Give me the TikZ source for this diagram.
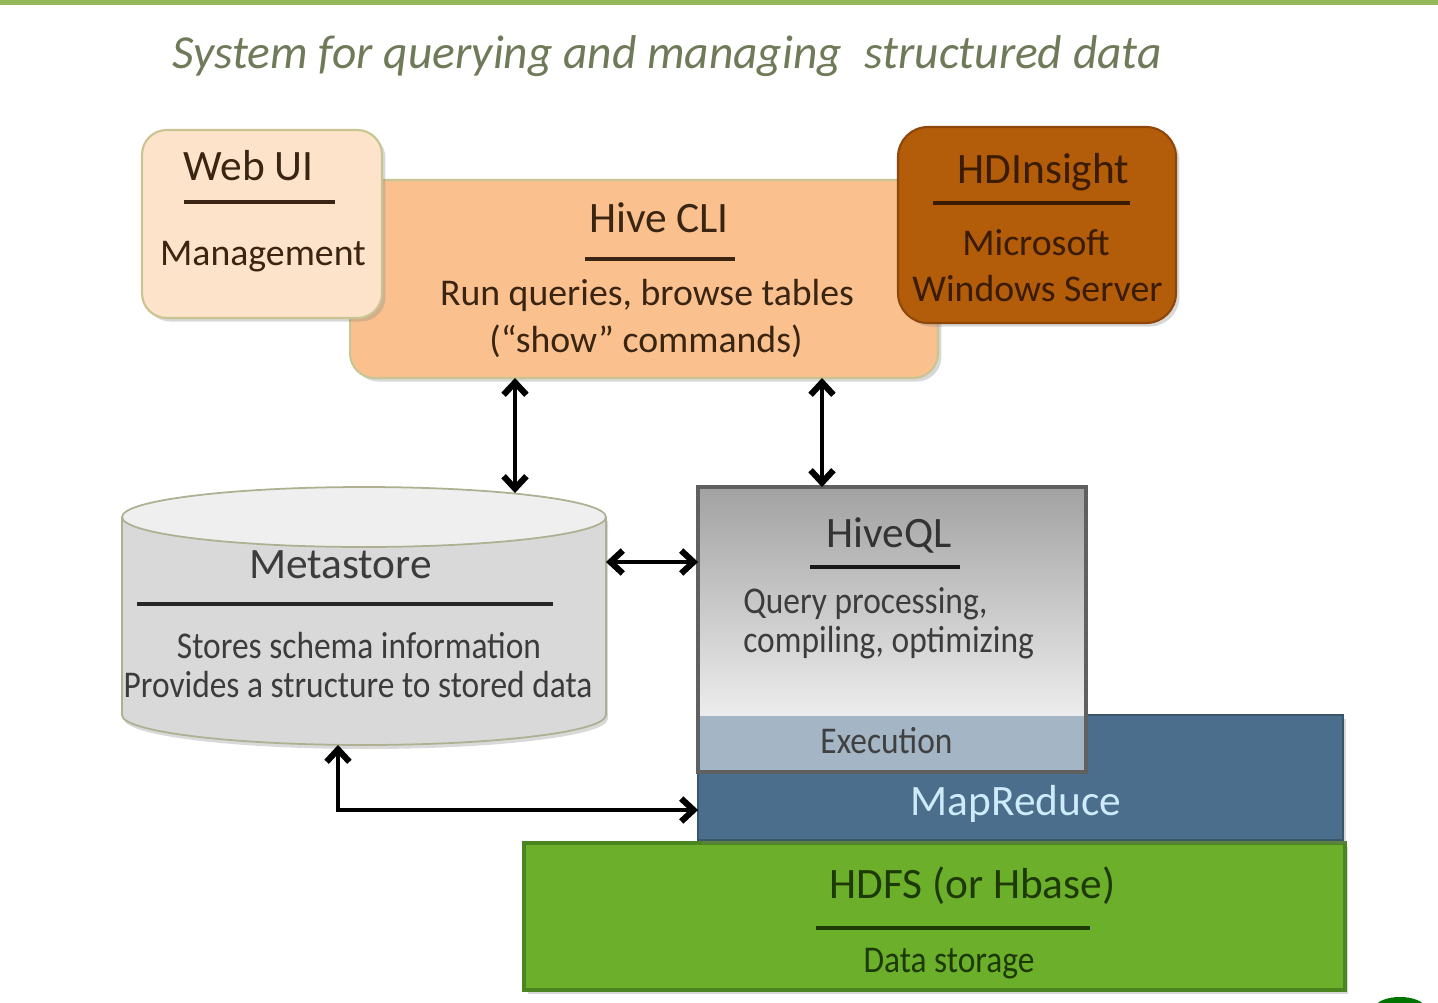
\documentclass[tikz,border=0pt]{standalone}
\usepackage{fontspec}
\setmainfont{Carlito}
\newfontfamily\condfont[FakeStretch=0.885]{Carlito}
\usetikzlibrary{arrows.meta,shadows}

\definecolor{barGreen}{HTML}{94B75A}
\definecolor{titleGray}{HTML}{6E7A58}
\definecolor{webFill}{HTML}{FDE3C9}
\definecolor{cliFill}{HTML}{FAC18F}
\definecolor{boxEdge}{HTML}{C8C592}
\definecolor{hdiFill}{HTML}{B35C0A}
\definecolor{hdiEdge}{HTML}{8E4708}
\definecolor{brownText}{HTML}{3A2412}
\definecolor{hdiText}{HTML}{3A1C02}
\definecolor{metaBody}{HTML}{D9D9D9}
\definecolor{metaTopFill}{HTML}{EFEFEF}
\definecolor{metaEdge}{HTML}{AEB091}
\definecolor{grayText}{HTML}{3C3C3C}
\definecolor{hqlTop}{HTML}{A2A2A2}
\definecolor{hqlEdge}{HTML}{606060}
\definecolor{mrFill}{HTML}{4A6E8B}
\definecolor{mrEdge}{HTML}{3A566C}
\definecolor{mrText}{HTML}{CDEBFA}
\definecolor{hdfsFill}{HTML}{6CAF2B}
\definecolor{hdfsEdge}{HTML}{4B8520}
\definecolor{hdfsText}{HTML}{1D3A06}

\newcommand\hdsize{\fontsize{24.7}{29}\selectfont}
\newcommand\bdsize{\fontsize{21.5}{25}\selectfont}
\newcommand\cdsize{\condfont\fontsize{21.5}{25}\selectfont}

\begin{document}
\begin{tikzpicture}[x=0.02cm, y=-0.02cm,
  box/.style={inner sep=0pt, outer sep=0pt},
  panel/.style={box, rounded corners=14pt, line width=1.2pt,
    drop shadow={shadow xshift=2pt, shadow yshift=-2pt, opacity=0.3}},
  flat/.style={box, drop shadow={shadow xshift=2pt, shadow yshift=-2pt, opacity=0.3}},
  txt/.style={anchor=base, inner sep=0pt},
  rule/.style={line width=2.3pt},
  barb/.tip={Straight Barb[length=7pt,width=13pt,line width=0pt 1.4]},
  link/.style={line width=2.5pt, barb-barb}]

% canvas
\useasboundingbox (0,0) rectangle (1438,1002);
\fill[white] (0,0) rectangle (1438,1002);
\fill[barGreen] (0,0) rectangle (1438,5);

% title
\node[anchor=base west, inner sep=0pt, text=titleGray,
      font=\itshape\fontsize{27}{32}\selectfont] (title) at (172,68)
  {System for querying and managing\hspace{0.25em} structured data};

% client layer
\node[panel, fill=cliFill, draw=boxEdge, minimum width=11.76cm, minimum height=3.96cm] (cli) at (644,279) {};
\node[panel, fill=webFill, draw=boxEdge, minimum width=4.8cm, minimum height=3.76cm] (web) at (262,224) {};
\node[panel, rounded corners=17pt, fill=hdiFill, draw=hdiEdge, minimum width=5.56cm, minimum height=3.92cm] (hdi) at (1037,225) {};

\node[txt, text=brownText, font=\hdsize] (webT) at (248.5,180) {Web UI};
\draw[rule, brownText] (184,202) -- (335,202);
\node[txt, text=brownText, font=\bdsize] (webD) at (263,265) {Management};

\node[txt, text=brownText, font=\hdsize] (cliT) at (659,232) {Hive CLI};
\draw[rule, brownText] (585,259) -- (735,259);
\node[txt, text=brownText, font=\bdsize] (cliD1) at (647,305) {Run queries, browse tables};
\node[txt, text=brownText, font=\bdsize] (cliD2) at (646,352) {(“show” commands)};

\node[txt, text=hdiText, font=\hdsize] (hdiT) at (1043.5,183) {HDInsight};
\draw[rule, hdiText] (933,203) -- (1130,203);
\node[txt, text=hdiText, font=\bdsize] (hdiD1) at (1036,255) {Microsoft};
\node[txt, text=hdiText, font=\bdsize] (hdiD2) at (1037.5,301) {Windows Server};

% metastore cylinder
\node[box, minimum width=9.68cm, minimum height=5.04cm] (meta) at (364,619) {};
\fill[black, opacity=0.15] (124,521) -- (124,719) arc[start angle=180, end angle=360, x radius=4.84cm, y radius=0.6cm] -- (608,521) -- cycle;
\filldraw[fill=metaBody, draw=metaEdge, line width=1pt] (122,517) -- (122,715)
  arc[start angle=180, end angle=360, x radius=4.84cm, y radius=0.6cm] -- (606,517);
\filldraw[fill=metaTopFill, draw=metaEdge, line width=1pt] (364,517) ellipse [x radius=4.84cm, y radius=0.6cm];

\node[txt, text=grayText, font=\hdsize] (metaT) at (340.5,578) {Metastore};
\draw[line width=2.8pt, black!85] (137,604) -- (553,604);
\node[txt, text=grayText, font=\cdsize] (metaD1) at (359,658) {Stores schema information};
\node[txt, text=grayText, font=\cdsize] (metaD2) at (358,697) {Provides a structure to stored data};

% execution stack
\node[flat, fill=hdfsFill, draw=hdfsEdge, line width=2pt, minimum width=16.42cm, minimum height=2.94cm] (hdfs) at (934.5,916.5) {};
\node[flat, fill=mrFill, draw=mrEdge, line width=1.5pt, minimum width=12.9cm, minimum height=2.5cm] (mr) at (1020.5,777.5) {};
\node[box, draw=hqlEdge, line width=2pt, minimum width=7.76cm, minimum height=5.7cm,
  path picture={
    \shade[top color=hqlTop, bottom color=white]
      (path picture bounding box.north west) rectangle ([yshift=1.12cm]path picture bounding box.south east);
    \fill[white, opacity=0.5]
      (path picture bounding box.south west) rectangle ([yshift=1.12cm]path picture bounding box.south east);
  }] (hql) at (892,629.5) {};

\node[txt, text=black!80, font=\hdsize] (hqlT) at (889,547) {HiveQL};
\draw[rule, black!90] (810,567) -- (960,567);
\node[anchor=base west, inner sep=0pt, text=grayText, font=\cdsize] (hqlD1) at (743,613) {Query processing,};
\node[anchor=base west, inner sep=0pt, text=grayText, font=\cdsize] (hqlD2) at (743,652) {compiling, optimizing};
\node[txt, text=black!75, font=\cdsize] (exec) at (886.5,753) {Execution};

\node[txt, text=mrText, font=\hdsize] (mrT) at (1016,815) {MapReduce};

\node[txt, text=hdfsText, font=\hdsize] (hdfsT) at (972.5,898) {HDFS (or Hbase)};
\draw[rule, hdfsText] (816,928) -- (1090,928);
\node[txt, text=hdfsText, font=\cdsize] (hdfsD) at (949,972) {Data storage};

% connectors
\coordinate (xa) at (515,0);
\coordinate (xb) at (822,0);
\coordinate (xc) at (338,0);
\coordinate (yc) at (0,562);
\coordinate (ye) at (0,810);
\draw[link] (cli.south -| xa) -- (meta.north -| xa);
\draw[link] (cli.south -| xb) -- (hql.north -| xb);
\draw[link] (meta.east |- yc) -- (hql.west |- yc);
\draw[link] (meta.south -| xc) |- (mr.west |- ye);

% corner logo fragment
\fill[green!45!black] (1400,1008) ellipse [x radius=0.5cm, y radius=0.22cm];
\end{tikzpicture}
\end{document}
